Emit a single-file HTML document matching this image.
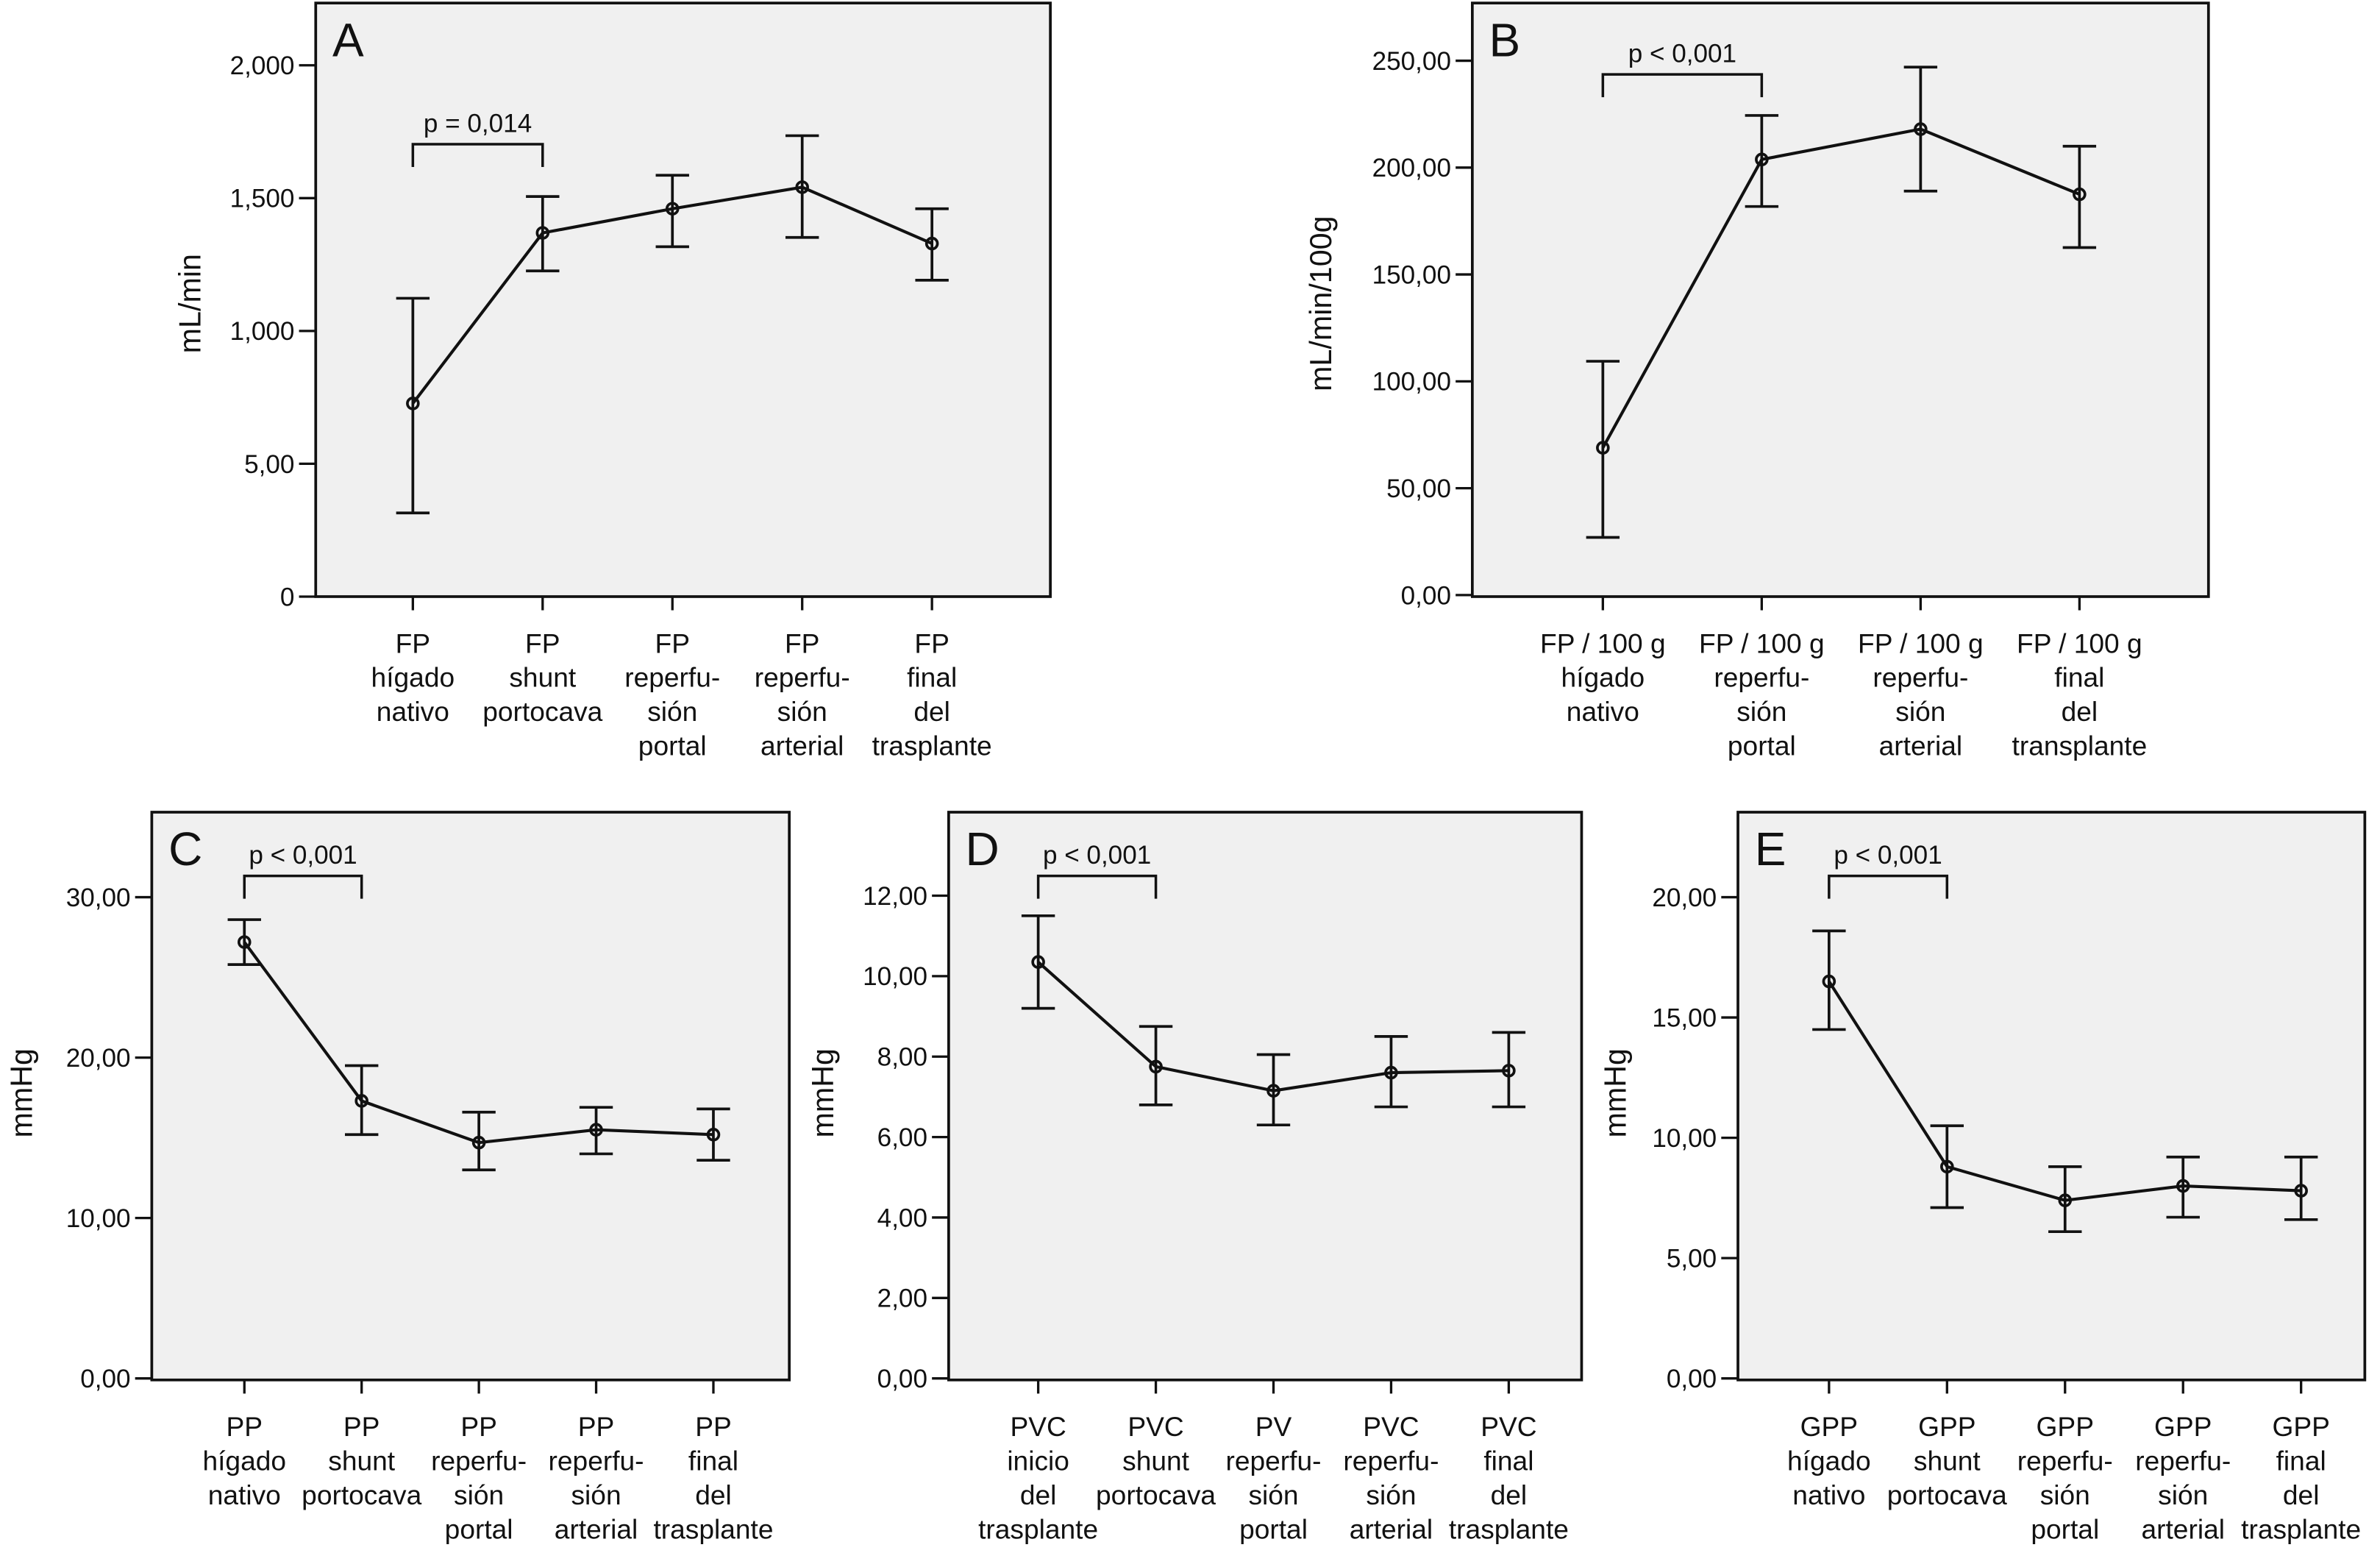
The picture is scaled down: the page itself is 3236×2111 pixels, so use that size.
<!DOCTYPE html>
<html><head><meta charset="utf-8"><style>
html,body{margin:0;padding:0;background:#fff;}
svg{display:block;}
text{font-family:"Liberation Sans",Arial,sans-serif;fill:#111;}
</style></head><body>
<svg id="chart" width="3236" height="2111" viewBox="0 0 1568 1023" preserveAspectRatio="none" xmlns="http://www.w3.org/2000/svg"></svg>
<script>
// Panel A data
const catsA = [["FP","hígado","nativo"],["FP","shunt","portocava"],["FP","reperfu-","sión","portal"],["FP","reperfu-","sión","arterial"],["FP","final","del","trasplante"]];
const meanA = [727,1369,1460,1541,1329];
const loA = [315,1226,1317,1352,1191];
const hiA = [1123,1506,1586,1735,1460];
const ticksA = [0,500,1000,1500,2000];
const tickLabelsA = ["0","5,00","1,000","1,500","2,000"];
// Panel B data
const catsB = [["FP / 100 g","hígado","nativo"],["FP / 100 g","reperfu-","sión","portal"],["FP / 100 g","reperfu-","sión","arterial"],["FP / 100 g","final","del","transplante"]];
const meanB = [68.9,203.8,218,187.5];
const loB = [27,181.8,189,162.6];
const hiB = [109.4,224.4,247,210];
const ticksB = [0,50,100,150,200,250];
const tickLabelsB = ["0,00","50,00","100,00","150,00","200,00","250,00"];
// Panel C data
const catsC = [["PP","hígado","nativo"],["PP","shunt","portocava"],["PP","reperfu-","sión","portal"],["PP","reperfu-","sión","arterial"],["PP","final","del","trasplante"]];
const meanC = [27.2,17.3,14.7,15.5,15.2];
const loC = [25.8,15.2,13.0,14.0,13.6];
const hiC = [28.6,19.5,16.6,16.9,16.8];
const ticksC = [0,10,20,30];
const tickLabelsC = ["0,00","10,00","20,00","30,00"];
// Panel D data
const catsD = [["PVC","inicio","del","trasplante"],["PVC","shunt","portocava"],["PV","reperfu-","sión","portal"],["PVC","reperfu-","sión","arterial"],["PVC","final","del","trasplante"]];
const meanD = [10.35,7.75,7.15,7.6,7.65];
const loD = [9.2,6.8,6.3,6.75,6.75];
const hiD = [11.5,8.75,8.05,8.5,8.6];
const ticksD = [0,2,4,6,8,10,12];
const tickLabelsD = ["0,00","2,00","4,00","6,00","8,00","10,00","12,00"];
// Panel E data
const catsE = [["GPP","hígado","nativo"],["GPP","shunt","portocava"],["GPP","reperfu-","sión","portal"],["GPP","reperfu-","sión","arterial"],["GPP","final","del","trasplante"]];
const meanE = [16.5,8.8,7.4,8.0,7.8];
const loE = [14.5,7.1,6.1,6.7,6.6];
const hiE = [18.6,10.5,8.8,9.2,9.2];
const ticksE = [0,5,10,15,20];
const tickLabelsE = ["0,00","5,00","10,00","15,00","20,00"];

const NS="http://www.w3.org/2000/svg";
const svg=document.getElementById('chart');
function mk(tag,attrs,parent){const e=document.createElementNS(NS,tag);for(const k in attrs)e.setAttribute(k,attrs[k]);(parent||svg).appendChild(e);return e;}

function panel(p){
  const g=mk('g',{});
  
  
  const y=v=>p.y0+(v-p.v0)*(p.y1-p.y0)/(p.v1-p.v0);
  const xc=i=>p.xc[0]+(p.xc[1]-p.xc[0])*i/(p.cats.length-1);
  const fr=mk('rect',{x:p.L,y:p.T,width:p.R-p.L,height:p.B-p.T,fill:'#f0f0f0',stroke:'#111','stroke-width':1.8},g);
  
  
  const lt=mk('text',{x:p.L+11,y:p.T+35,'font-size':31},g);lt.textContent=p.id;
  
  
  p.ticks.forEach((t,i)=>{
    const yy=y(t);
    const tk=mk('line',{x1:p.L-11,x2:p.L,y1:yy,y2:yy,stroke:'#111','stroke-width':1.6},g);
    
    
    const tl=mk('text',{x:p.L-14,y:yy+6,'font-size':17,'text-anchor':'end'},g);tl.textContent=p.tickLabels[i];
    
    
  });
  const yt=mk('text',{x:0,y:0,'font-size':20,'text-anchor':'middle',transform:`translate(${p.ytx},${p.yty}) rotate(-90)`},g);yt.textContent=p.ytitle;
  
  
  p.cats.forEach((c,i)=>{
    const xx=xc(i);
    const tk=mk('line',{x1:xx,x2:xx,y1:p.B,y2:p.B+9,stroke:'#111','stroke-width':1.6},g);
    
    
    const t=mk('text',{x:xx,y:p.B+37,'font-size':18,'text-anchor':'middle'},g);
    
    
    c.forEach((ln,j)=>{const s=mk('tspan',{x:xx,dy:j?22.5:0},t);s.textContent=ln;});
  });
  let d='';
  p.mean.forEach((m,i)=>{d+=(i?'L':'M')+xc(i)+' '+y(m);});
  const ln=mk('path',{d:d,fill:'none',stroke:'#111','stroke-width':2},g);
  
  
  p.mean.forEach((m,i)=>{
    const xx=xc(i),w=11;
    const eb=mk('path',{d:`M${xx} ${y(p.lo[i])}L${xx} ${y(p.hi[i])}M${xx-w} ${y(p.lo[i])}L${xx+w} ${y(p.lo[i])}M${xx-w} ${y(p.hi[i])}L${xx+w} ${y(p.hi[i])}`,fill:'none',stroke:'#111','stroke-width':1.8},g);
    
    
    const pt=mk('circle',{cx:xx,cy:y(m),r:3.6,fill:'none',stroke:'#111','stroke-width':1.8},g);
    
    
  });
  const bx0=xc(0),bx1=xc(1);
  const br=mk('path',{d:`M${bx0} ${p.bry+15}L${bx0} ${p.bry}L${bx1} ${p.bry}L${bx1} ${p.bry+15}`,fill:'none',stroke:'#111','stroke-width':1.7},g);
  
  
  const pt=mk('text',{x:(bx0+bx1)/2,y:p.bry-8,'font-size':17,'text-anchor':'middle'},g);pt.textContent=p.ptext;
  
  
}
panel({id:'A',L:208,R:692,T:2,B:393,v0:0,v1:2000,y0:393,y1:43,xc:[272,614],cats:catsA,mean:meanA,lo:loA,hi:hiA,ticks:ticksA,tickLabels:tickLabelsA,ytitle:'mL/min',ytx:132,yty:200,bry:95,ptext:'p = 0,014'});
panel({id:'B',L:970,R:1455,T:2,B:393,v0:0,v1:250,y0:392,y1:40,xc:[1056,1370],cats:catsB,mean:meanB,lo:loB,hi:hiB,ticks:ticksB,tickLabels:tickLabelsB,ytitle:'mL/min/100g',ytx:877,yty:200,bry:49,ptext:'p < 0,001'});
panel({id:'C',L:100,R:520,T:535,B:909,v0:0,v1:30,y0:908,y1:591,xc:[161,470],cats:catsC,mean:meanC,lo:loC,hi:hiC,ticks:ticksC,tickLabels:tickLabelsC,ytitle:'mmHg',ytx:21,yty:720,bry:577,ptext:'p < 0,001'});
panel({id:'D',L:625,R:1042,T:535,B:909,v0:0,v1:12,y0:908,y1:590,xc:[684,994],cats:catsD,mean:meanD,lo:loD,hi:hiD,ticks:ticksD,tickLabels:tickLabelsD,ytitle:'mmHg',ytx:549,yty:720,bry:577,ptext:'p < 0,001'});
panel({id:'E',L:1145,R:1558,T:535,B:909,v0:0,v1:20,y0:908,y1:591,xc:[1205,1516],cats:catsE,mean:meanE,lo:loE,hi:hiE,ticks:ticksE,tickLabels:tickLabelsE,ytitle:'mmHg',ytx:1071,yty:720,bry:577,ptext:'p < 0,001'});
</script>
</body></html>
